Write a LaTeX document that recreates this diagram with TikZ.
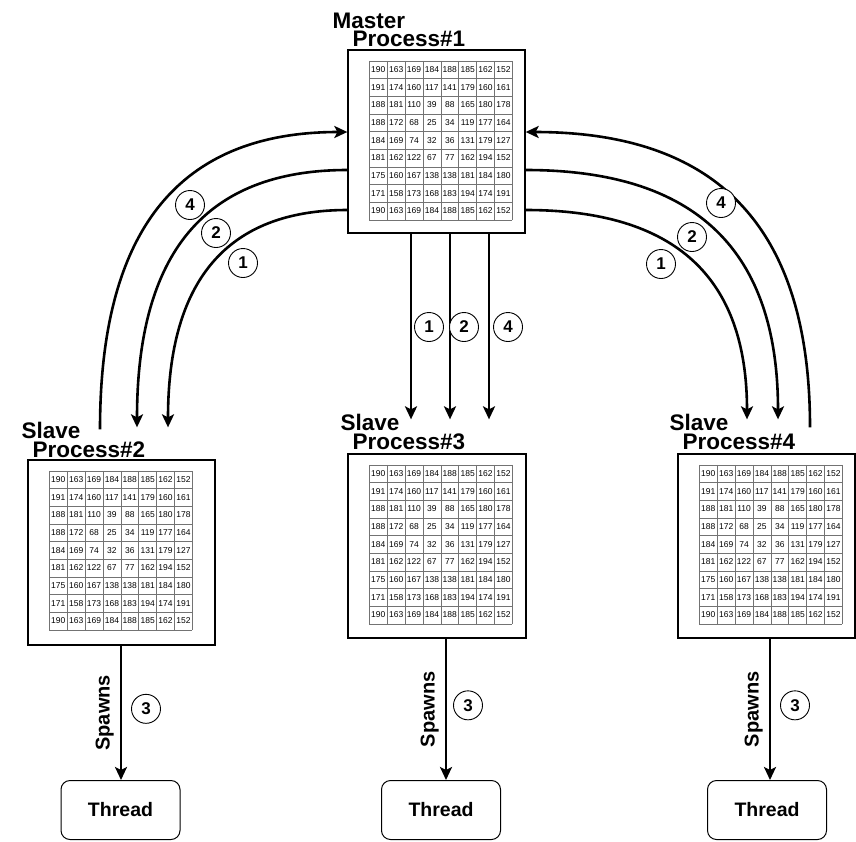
\documentclass[tikz,border=0pt]{standalone}
\usepackage{fontspec}
\setmainfont{Liberation Sans}
\usetikzlibrary{arrows.meta,positioning}

\tikzset{
  procbox/.style={draw, line width=1.3pt, minimum width=178pt, minimum height=184pt, inner sep=0pt},
  threadbox/.style={draw, rounded corners=9pt, line width=1pt, minimum width=119pt, minimum height=59pt, font=\fontsize{19.5}{20}\selectfont\bfseries},
  proclbl/.style={inner sep=0pt, align=left, anchor=north west, font=\fontsize{22.5}{18.5}\selectfont\bfseries},
  flow/.style={line width=2.6pt, -{Stealth[length=13pt,width=12pt,inset=3pt]}},
  numcirc/.style={circle, draw, line width=0.9pt, minimum size=29pt, inner sep=0pt, fill=white, font=\fontsize{17}{17}\selectfont\bfseries},
  spawnlbl/.style={rotate=90, anchor=south, inner sep=6pt, font=\fontsize{20}{20}\selectfont\bfseries},
  gridline/.style={draw=black!55, line width=0.7pt},
  cellnum/.style={inner sep=0pt, font=\fontsize{8.5}{9}\selectfont}
}

\newcommand{\pixvals}{{190,163,169,184,188,185,162,152},{191,174,160,117,141,179,160,161},{188,181,110,39,88,165,180,178},{188,172,68,25,34,119,177,164},{184,169,74,32,36,131,179,127},{181,162,122,67,77,162,194,152},{175,160,167,138,138,181,184,180},{171,158,173,168,183,194,174,191},{190,163,169,184,188,185,162,152}}

% 8x9 pixel block inside a process box
\newcommand{\pixgrid}[1]{%
  \begin{scope}[shift={(#1.north west)}, shift={(22,11.5)}]
    \foreach \cx in {0,...,8}
      \draw[gridline] (\cx*17.875,0) -- (\cx*17.875,159);
    \foreach \cy in {0,...,9}
      \draw[gridline] (0,\cy*17.667) -- (143,\cy*17.667);
    \foreach \row [count=\ry] in \pixvals
      \foreach \val [count=\rx] in \row
        \node[cellnum] at ({(\rx-0.5)*17.875},{(\ry-0.5)*17.667}) {\val};
  \end{scope}}

\begin{document}
\begin{tikzpicture}[x=1pt, y=-1pt]

\useasboundingbox (0,0) rectangle (856,841);

\node[procbox, minimum width=177pt, minimum height=183pt] (master) at (436.5,141.5) {};
\node[procbox, minimum width=187pt, minimum height=185pt] (slaveA) at (121.5,552.5) {};
\node[procbox] (slaveB) at (437,546) {};
\node[procbox, minimum width=177pt] (slaveC) at (766.5,546) {};

\pixgrid{master}
\pixgrid{slaveA}
\pixgrid{slaveB}
\pixgrid{slaveC}

\node[proclbl] (mastertxt) at ([xshift=-15pt,yshift=37pt]master.north west) {Master\\\hspace*{20pt}Process\#1};
\node[proclbl] (slaveAtxt) at ([xshift=-6pt,yshift=37pt]slaveA.north west) {Slave\\\hspace*{11pt}Process\#2};
\node[proclbl] (slaveBtxt) at ([xshift=-7pt,yshift=39pt]slaveB.north west) {Slave\\\hspace*{12pt}Process\#3};
\node[proclbl] (slaveCtxt) at ([xshift=-8pt,yshift=39pt]slaveC.north west) {Slave\\\hspace*{13pt}Process\#4};

\node[threadbox] (threadA) at (120.5,810) {Thread};
\node[threadbox] (threadB) at (441,810) {Thread};
\node[threadbox] (threadC) at (767,810) {Thread};

% master <-> slave 2
\draw[flow] ([xshift=-21.5pt,yshift=30pt]slaveA.north) .. controls +(0,-200) and +(-168,0) .. ([yshift=9.5pt]master.west);
\draw[flow] ([yshift=-28.5pt]master.west) .. controls +(-143.5,0) and +(0,-173) .. ([xshift=15.5pt,yshift=32pt]slaveA.north);
\draw[flow] ([yshift=-68.5pt]master.west) .. controls +(-121,0) and +(0,-146) .. ([xshift=46.5pt,yshift=32pt]slaveA.north);

% master <-> slave 4
\draw[flow] ([xshift=43.5pt,yshift=26pt]slaveC.north) .. controls +(0,-198) and +(194,0) .. ([yshift=9.5pt]master.east);
\draw[flow] ([yshift=-28.5pt]master.east) .. controls +(172,0) and +(0,-167.5) .. ([xshift=11.5pt,yshift=34pt]slaveC.north);
\draw[flow] ([yshift=-68.5pt]master.east) .. controls +(151,0) and +(0,-141) .. ([xshift=-19.5pt,yshift=34pt]slaveC.north);

% master -> slave 3
\draw[flow] ([xshift=-25.5pt]master.south) -- ([xshift=-26pt,yshift=34pt]slaveB.north);
\draw[flow] ([xshift=13.5pt]master.south) -- ([xshift=13pt,yshift=34pt]slaveB.north);
\draw[flow] ([xshift=52.5pt]master.south) -- ([xshift=52pt,yshift=34pt]slaveB.north);

\node[numcirc] (nA4) at (190,205) {4};
\node[numcirc] (nA2) at (216,233) {2};
\node[numcirc] (nA1) at (243,263) {1};
\node[numcirc] (nC4) at (721,203) {4};
\node[numcirc] (nC2) at (692,237) {2};
\node[numcirc] (nC1) at (661,264) {1};
\node[numcirc] (nB1) at (429,327) {1};
\node[numcirc] (nB2) at (464,327) {2};
\node[numcirc] (nB4) at (508,327) {4};

% threads
\draw[flow] ([xshift=-0.5pt]slaveA.south) -- ([xshift=0.5pt]threadA.north)
  node[midway, spawnlbl] {Spawns} node[midway, numcirc, xshift=25pt, yshift=4pt] {3};
\draw[flow] ([xshift=9pt]slaveB.south) -- ([xshift=5pt]threadB.north)
  node[midway, spawnlbl] {Spawns} node[midway, numcirc, xshift=22pt, yshift=4pt] {3};
\draw[flow] ([xshift=3.5pt]slaveC.south) -- ([xshift=3pt]threadC.north)
  node[midway, spawnlbl] {Spawns} node[midway, numcirc, xshift=25pt, yshift=4pt] {3};

\end{tikzpicture}
\end{document}
